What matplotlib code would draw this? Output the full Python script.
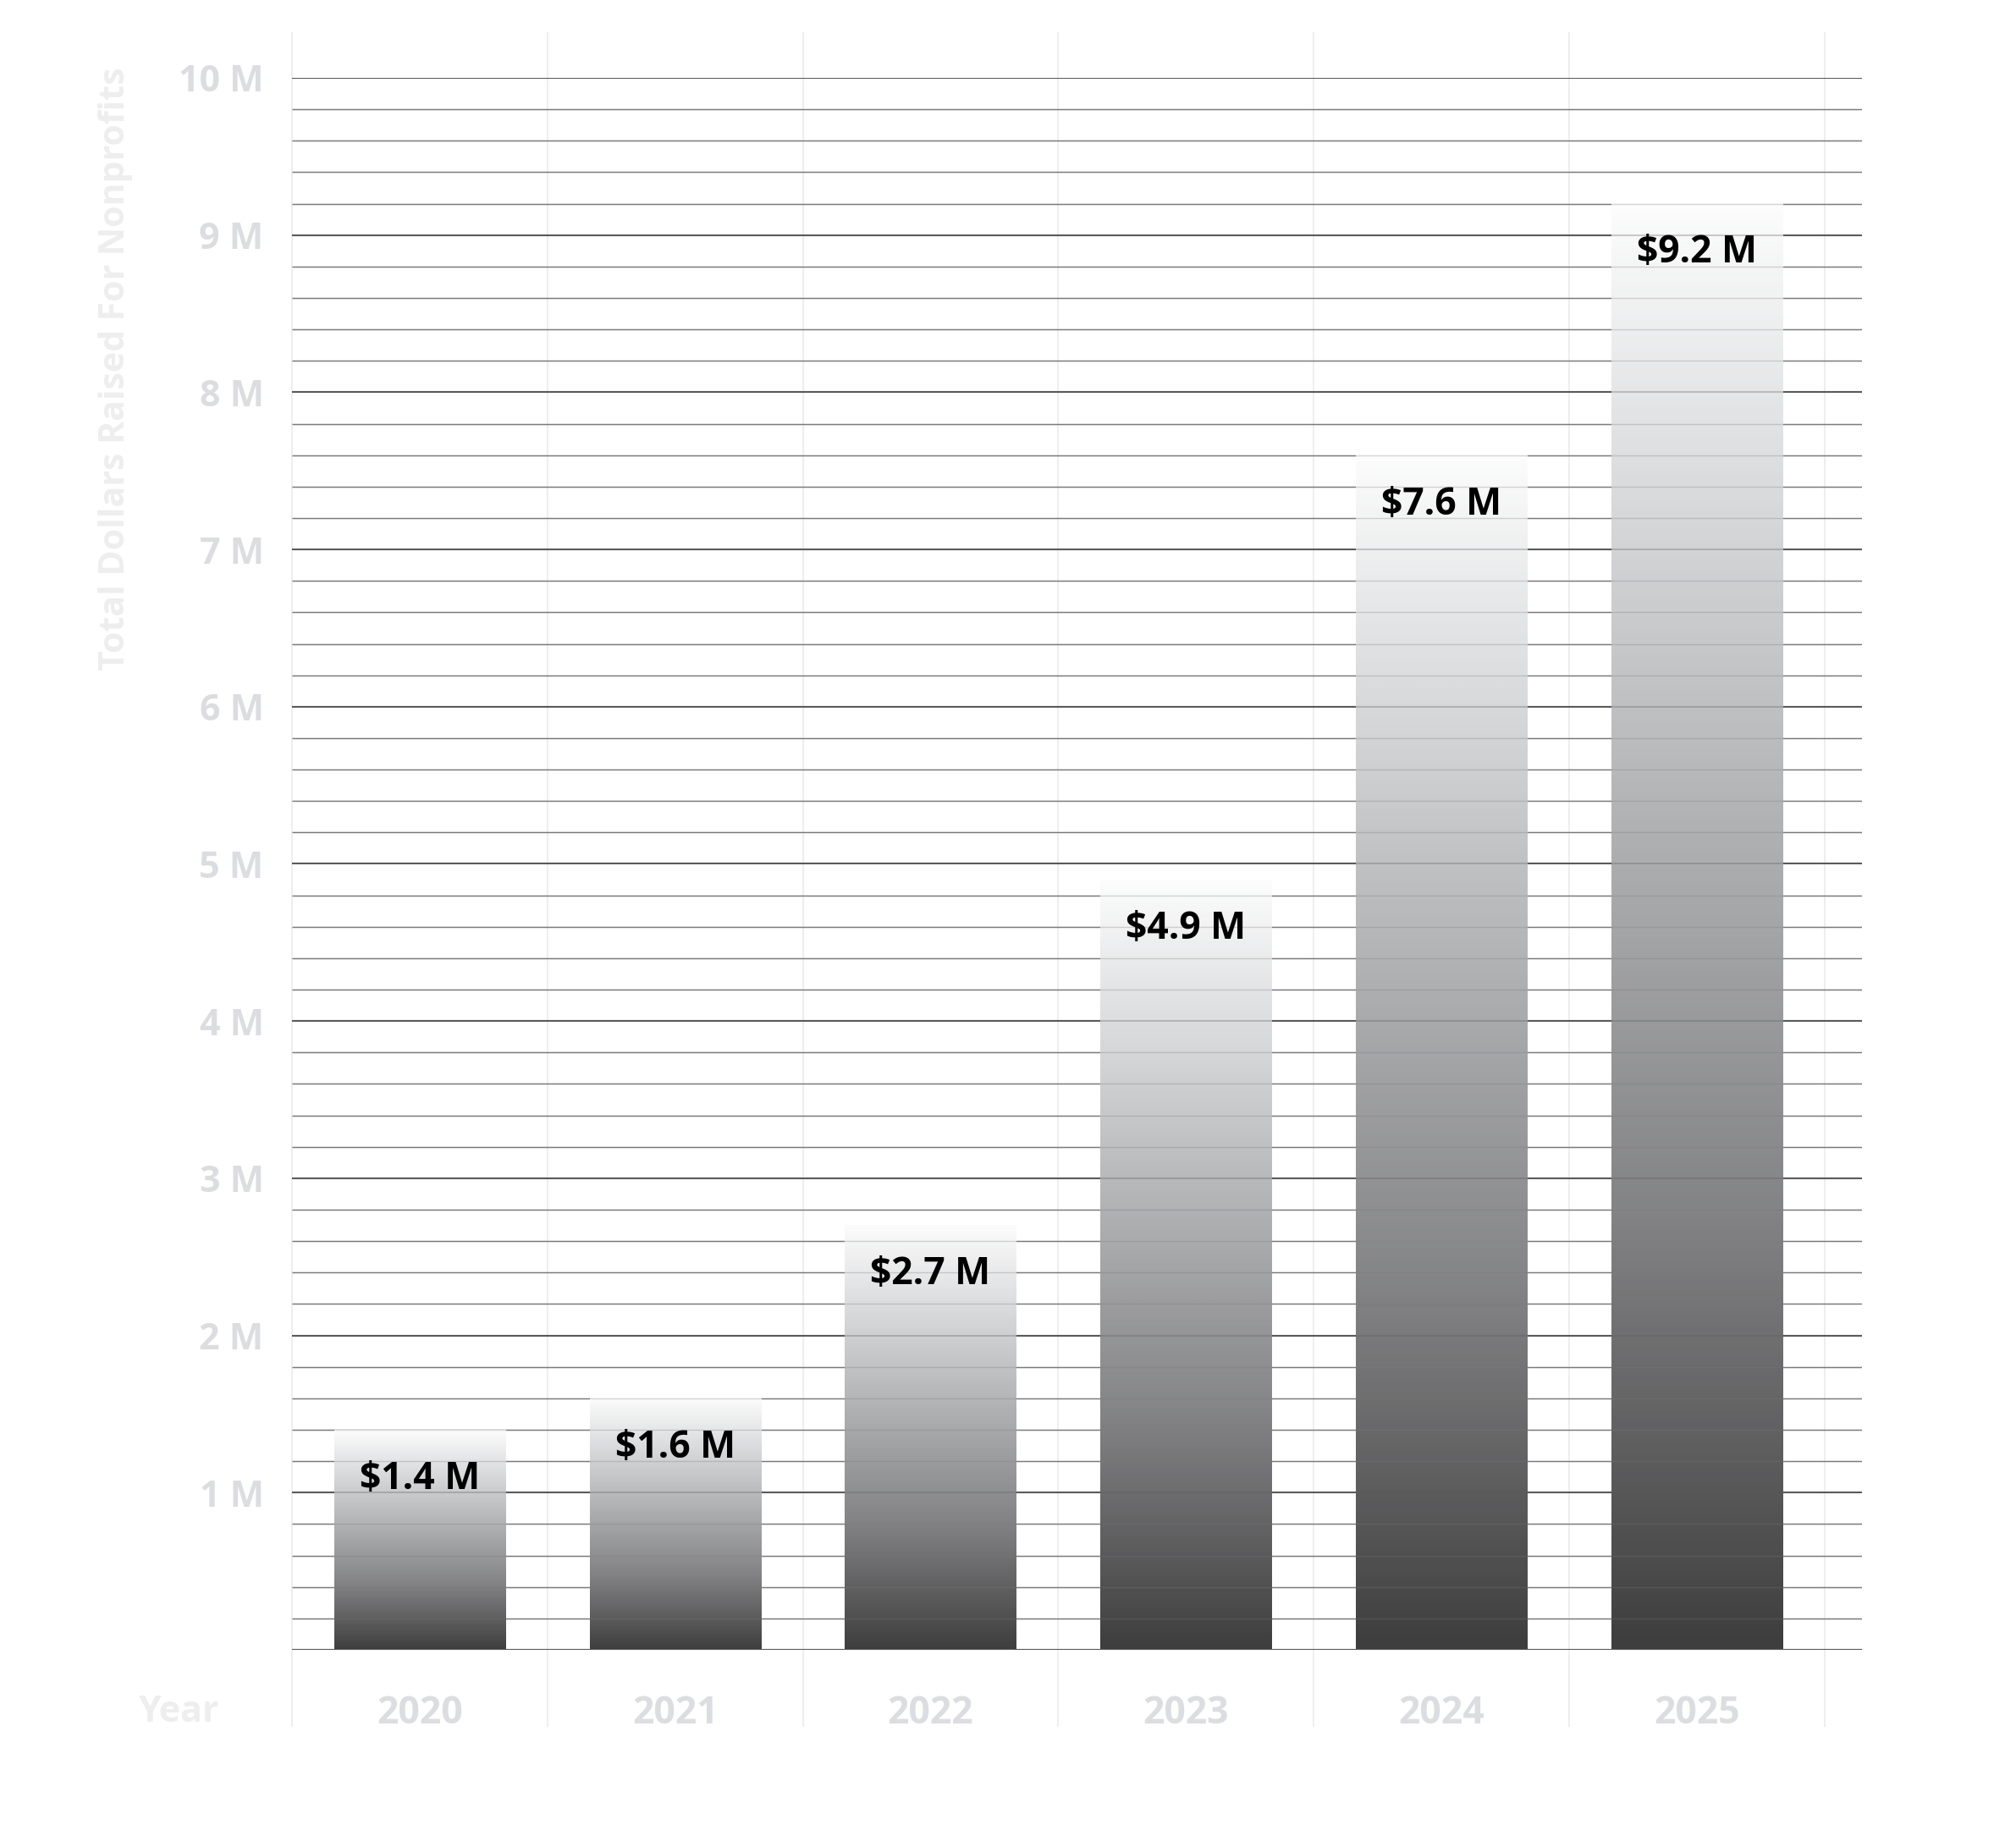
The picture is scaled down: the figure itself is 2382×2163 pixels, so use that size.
import numpy as np
import matplotlib
matplotlib.use("Agg")
import matplotlib.pyplot as plt
from matplotlib.colors import LinearSegmentedColormap

# ---- data ----
years = ["2020", "2021", "2022", "2023", "2024", "2025"]
values = [1.4, 1.6, 2.7, 4.9, 7.6, 9.2]          # millions of dollars
value_labels = ["$1.4 M", "$1.6 M", "$2.7 M", "$4.9 M", "$7.6 M", "$9.2 M"]
y_ticks = [1, 2, 3, 4, 5, 6, 7, 8, 9, 10]
y_tick_labels = ["1 M", "2 M", "3 M", "4 M", "5 M", "6 M", "7 M", "8 M", "9 M", "10 M"]
y_title = "Total Dollars Raised For Nonprofits"
x_title = "Year"

plt.rcParams['font.family'] = ['Open Sans', 'DejaVu Sans']

W, H = 2382, 2163
fig = plt.figure(figsize=(W / 100, H / 100), dpi=100)
left, right = 345 / W, 2200 / W
bottom, top = 1 - 1949 / H, 1 - 92 / H
ax = fig.add_axes([left, bottom, right - left, top - bottom])

n = len(years)
x = np.arange(n)
ax.set_xlim(-0.5, n - 0.5 + 0.146)
ax.set_ylim(0, 10)
for s in ax.spines.values():
    s.set_visible(False)

# gridlines (below bars)
minor = np.round(np.arange(0, 10.01, 0.2), 1)
major_set = set(y_ticks) | {0}
minor_only = [v for v in minor if v not in major_set]
xmin, xmax = ax.get_xlim()
ax.hlines(minor_only, xmin, xmax, colors="#7a7a7a", linewidth=1.0, zorder=1)
ax.hlines([0] + y_ticks, xmin, xmax, colors="#5a5a5a", linewidth=1.5, zorder=1)

# vertical category separators, extending above and below the plot
bounds = np.arange(-0.5, n + 0.5, 1.0)
ax.vlines(bounds, -0.49, 10.29, colors="#ebebeb", linewidth=1.2, zorder=0, clip_on=False)

# bars with gradient fill
bar_w = 0.67
bars = ax.bar(x, values, width=bar_w, color="none", edgecolor="none", zorder=2)
cmap = LinearSegmentedColormap.from_list(
    "g", [(0.0, "#3e3e3e"), (0.1, "#565657"), (0.3, "#838385"),
          (0.55, "#adaeb0"), (0.8, "#d9dadc"), (1.0, "#fcfcfc")])
grad = np.linspace(0, 1, 256).reshape(-1, 1)
for b in bars:
    x0, y0 = b.get_x(), b.get_y()
    ax.imshow(grad, extent=[x0, x0 + b.get_width(), y0, y0 + b.get_height()],
              origin="lower", aspect="auto", cmap=cmap, zorder=2,
              interpolation="bicubic")
ax.set_xlim(xmin, xmax)
ax.set_ylim(0, 10)

# gridlines faintly visible through bars
ax.hlines(minor_only, xmin, xmax, colors="#7a7a7a", linewidth=1.0, zorder=3, alpha=0.3)
ax.hlines(y_ticks, xmin, xmax, colors="#5a5a5a", linewidth=1.5, zorder=3, alpha=0.3)
ax.hlines([0], xmin, xmax, colors="#5a5a5a", linewidth=1.5, zorder=3)

# value labels
for b, lab in zip(bars, value_labels):
    ax.annotate(lab, (b.get_x() + b.get_width() / 2, b.get_height()),
                xytext=(0, -42), textcoords="offset points",
                ha="center", va="center", fontsize=32, fontweight="bold",
                color="black", zorder=4)

# ticks
ax.set_yticks(y_ticks)
ax.set_yticklabels(y_tick_labels, fontsize=31, fontweight="bold", color="#dcdde0")
ax.tick_params(axis="y", length=0, pad=24)
ax.set_xticks(x)
ax.set_xticklabels(years, fontsize=32, fontweight="bold", color="#dcdde0")
ax.tick_params(axis="x", length=0, pad=38)

# axis titles
fig.text(137 / W, 1 - 79 / H, y_title, rotation=90, ha="center", va="top",
         fontsize=29.5, fontweight="bold", color="#eeeeee")
fig.text(211 / W, 1 - 2022 / H, x_title, ha="center", va="center",
         fontsize=31, fontweight="bold", color="#eeeeee")

fig.savefig("out.png", dpi=100, facecolor="white")
